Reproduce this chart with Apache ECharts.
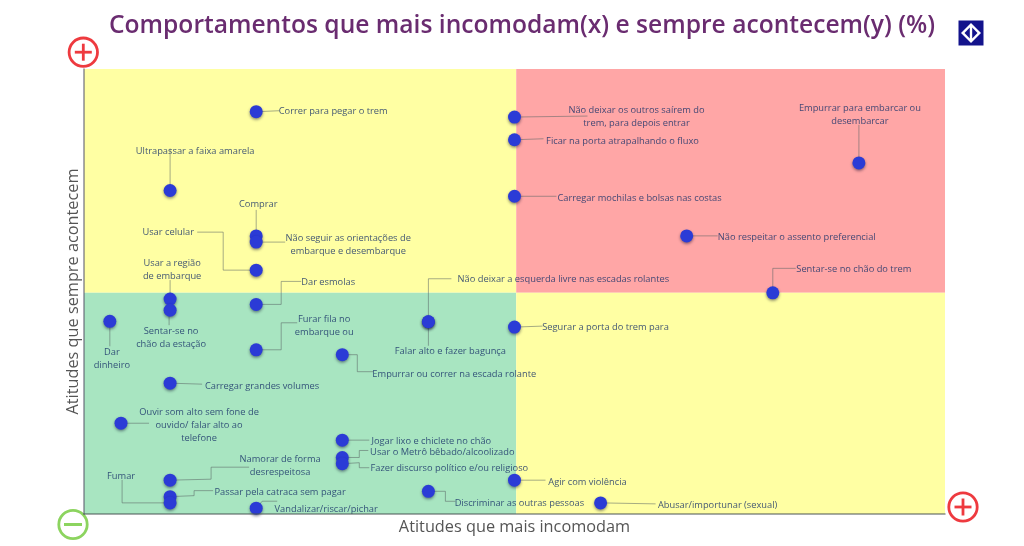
<!DOCTYPE html>
<html><head><meta charset="utf-8">
<style>html,body{margin:0;padding:0;background:#fff}#c{width:1024px;height:546px}</style>
<script src="https://cdn.jsdelivr.net/npm/echarts@6/dist/echarts.min.js"></script>
</head><body><div id="c"></div>
<script>
// ---- chart values ----
const titleText = 'Comportamentos que mais incomodam(x) e sempre acontecem(y) (%)';
const xAxisName = 'Atitudes que mais incomodam';
const yAxisName = 'Atitudes que sempre acontecem';
const behaviours = [
 'Correr para pegar o trem','Não deixar os outros saírem do\ntrem, para depois entrar','Ficar na porta atrapalhando o fluxo',
 'Carregar mochilas e bolsas nas costas','Ultrapassar a faixa amarela','Comprar','Não seguir as orientações de\nembarque e desembarque',
 'Usar celular','Empurrar para embarcar ou\ndesembarcar','Não respeitar o assento preferencial','Sentar-se no chão do trem',
 'Usar a região\nde embarque','Sentar-se no\nchão da estação','Dar esmolas','Dar\ndinheiro','Falar alto e fazer bagunça',
 'Não deixar a esquerda livre nas escadas rolantes','Segurar a porta do trem para','Furar fila no\nembarque ou',
 'Empurrar ou correr na escada rolante','Carregar grandes volumes','Ouvir som alto sem fone de\nouvido/ falar alto ao\ntelefone',
 'Jogar lixo e chiclete no chão','Usar o Metrô bêbado/alcoolizado','Fazer discurso político e/ou religioso','Agir com violência',
 'Namorar de forma\ndesrespeitosa','Passar pela catraca sem pagar','Fumar','Discriminar as outras pessoas','Abusar/importunar (sexual)',
 'Vandalizar/riscar/pichar'
];
const incomodam = [20,50,50,50,10,20,20,20,90,70,80,10,10,20,3,40,40,50,20,30,10,4.3,30,30,30,50,10,10,10,40,60,20];
const acontecem = [90.4,89.2,84.1,71.4,72.7,62.5,61.1,54.8,78.9,62.5,49.7,48.3,45.8,47.1,43.3,43.2,43.2,42,36.9,35.8,29.4,20.4,16.6,12.7,11.3,7.6,7.6,3.9,2.5,5.1,2.5,1.3];
const xMin = 0, xMax = 100, yMin = 0, yMax = 100;
const xSplit = 50.2, ySplit = 49.7;

// ---- label placement: text centre and leader path, in px relative to the point ----
const placement = [
 {t:[77,0],l:[[23,-1]]},
 {t:[122,0],l:[[73,-1]]},
 {t:[108,2],l:[[29,-1]]},
 {t:[125,2],l:[[42,0]]},
 {t:[25,-39],l:[[0,-42]]},
 {t:[2,-32],l:[[0,-26]]},
 {t:[92,2.5],l:[[29,0]]},
 {t:[-88,-38],l:[[-33,0],[-33,-38],[-59,-38]]},
 {t:[1,-48],l:[[0,-38]]},
 {t:[110,1],l:[[31,0]]},
 {t:[81,-23.5],l:[[0,-24.5],[23,-24.5]]},
 {t:[2,-29.5],l:[[0,-19]]},
 {t:[1,28],l:[[-1,0],[-1,15]]},
 {t:[72,-22],l:[[25,0],[25,-23],[45,-23]]},
 {t:[2,38],l:[[0,25]]},
 {t:[22,30],l:[[0,24]]},
 {t:[135,-42],l:[[0,-43],[23,-43]]},
 {t:[91,0],l:[[28,-1]]},
 {t:[68,-24],l:[[25,0],[25,-27],[41,-27]]},
 {t:[112,20],l:[[15,0],[15,17],[31,17]]},
 {t:[92,3],l:[[32,1]]},
 {t:[78,2],l:[[28,0]]},
 {t:[89,1],l:[[27,0]]},
 {t:[100,-5],l:[[17,0],[17,-7],[26,-7]]},
 {t:[107,5],l:[[17,-1],[17,4],[27,4]]},
 {t:[73,2],l:[[31,0]]},
 {t:[110,-14],l:[[41,-1],[41,-13],[79,-13]]},
 {t:[110,-4],l:[[24,-1],[24,-6],[43,-6]]},
 {t:[-49,-27],l:[[-48,0],[-48,-23]]},
 {t:[91,12],l:[[17,0],[17,10],[27,10]]},
 {t:[117,2],l:[[55,1]]},
 {t:[70,1],l:[[6,-7],[21,-7]]}
];

const labelFont = '9.3px "Open Sans", sans-serif';
const chart = echarts.init(document.getElementById('c'), null, {renderer:'canvas'});
const plus = (cx, cy) => ({type:'group', children:[
 {type:'circle', shape:{cx, cy, r:14.2}, style:{fill:'#fff', stroke:'#EE3A3F', lineWidth:2.8}},
 {type:'rect', shape:{x:cx-8.5, y:cy-1.4, width:17, height:2.8}, style:{fill:'#EE3A3F'}},
 {type:'rect', shape:{x:cx-1.4, y:cy-8.5, width:2.8, height:17}, style:{fill:'#EE3A3F'}}
]});
chart.setOption({
 animation:false,
 backgroundColor:'#fff',
 title:{text:titleText, left:517, top:8, textAlign:'center',
  textStyle:{color:'#6A2C70', fontFamily:'"Open Sans", sans-serif', fontWeight:600, fontSize:24.6}},
 grid:{left:84, right:79, top:69, bottom:32},
 xAxis:{type:'value', min:xMin, max:xMax, z:6, splitLine:{show:false}, axisTick:{show:false}, axisLabel:{show:false},
  axisLine:{lineStyle:{color:'rgba(70,80,80,0.65)', width:1.5}},
  name:xAxisName, nameLocation:'middle', nameGap:5, nameTextStyle:{color:'#555', fontSize:16.3, fontFamily:'"Open Sans", sans-serif'}},
 yAxis:{type:'value', min:yMin, max:yMax, z:6, splitLine:{show:false}, axisTick:{show:false}, axisLabel:{show:false},
  axisLine:{lineStyle:{color:'rgba(90,90,110,0.7)', width:1.5}},
  name:yAxisName, nameLocation:'middle', nameGap:3, nameTextStyle:{color:'#555', fontSize:16.3, fontFamily:'"Open Sans", sans-serif'}},
 series:[
  {type:'scatter', data:[], z:1, silent:true,
   markArea:{silent:true, z:1, data:[
    [{xAxis:xMin,yAxis:ySplit,itemStyle:{color:'#FFFFA3'}},{xAxis:xSplit,yAxis:yMax}],
    [{xAxis:xSplit,yAxis:ySplit,itemStyle:{color:'#FFA6A6'}},{xAxis:xMax,yAxis:yMax}],
    [{xAxis:xMin,yAxis:yMin,itemStyle:{color:'#A8E5C1'}},{xAxis:xSplit,yAxis:ySplit}],
    [{xAxis:xSplit,yAxis:yMin,itemStyle:{color:'#FFFFA3'}},{xAxis:xMax,yAxis:ySplit}]
   ]}},
  {type:'custom', z:3, silent:true, clip:false,
   data:behaviours.map((b,i)=>[incomodam[i],acontecem[i],i]),
   renderItem(params, api){
    const p = api.coord([api.value(0), api.value(1)]);
    const i = api.value(2), a = placement[i];
    const pts = [p].concat(a.l.map(o=>[p[0]+o[0], p[1]+o[1]]));
    return {type:'group', children:[
     {type:'polyline', shape:{points:pts}, style:{fill:'none', stroke:'rgba(90,100,100,0.6)', lineWidth:0.9}},
     {type:'text', x:p[0]+a.t[0], y:p[1]+a.t[1], style:{text:behaviours[i], font:labelFont, lineHeight:13,
       fill:'rgba(25,50,105,0.82)', align:'center', verticalAlign:'middle'}}
    ]};
   }},
  {type:'scatter', z:4, symbolSize:13, clip:false, silent:true,
   data:incomodam.map((x,i)=>[x,acontecem[i]]),
   itemStyle:{color:'#2B3BD6', shadowColor:'rgba(0,0,40,0.45)', shadowBlur:3, shadowOffsetY:1.5, opacity:1}}
 ],
 graphic:{elements:[
  plus(83.3,52.2), plus(963,507),
  {type:'group', children:[
   {type:'circle', shape:{cx:73,cy:524.5,r:14.2}, style:{fill:'#fff', stroke:'#8CD45F', lineWidth:2.8}},
   {type:'rect', shape:{x:64,y:523,width:18,height:3}, style:{fill:'#8CD45F'}}
  ]},
  {type:'group', children:[
   {type:'rect', shape:{x:958.5,y:20.5,width:25,height:25}, style:{fill:'#13138C'}},
   {type:'polygon', shape:{points:[[971,23],[981,33],[971,43],[961,33]]}, style:{fill:'#fff'}},
   {type:'polygon', shape:{points:[[969.8,27.5],[969.8,38.5],[964.5,33]]}, style:{fill:'#13138C'}},
   {type:'polygon', shape:{points:[[972.2,27.5],[972.2,38.5],[977.5,33]]}, style:{fill:'#13138C'}}
  ]}
 ]}
});
</script></body></html>
